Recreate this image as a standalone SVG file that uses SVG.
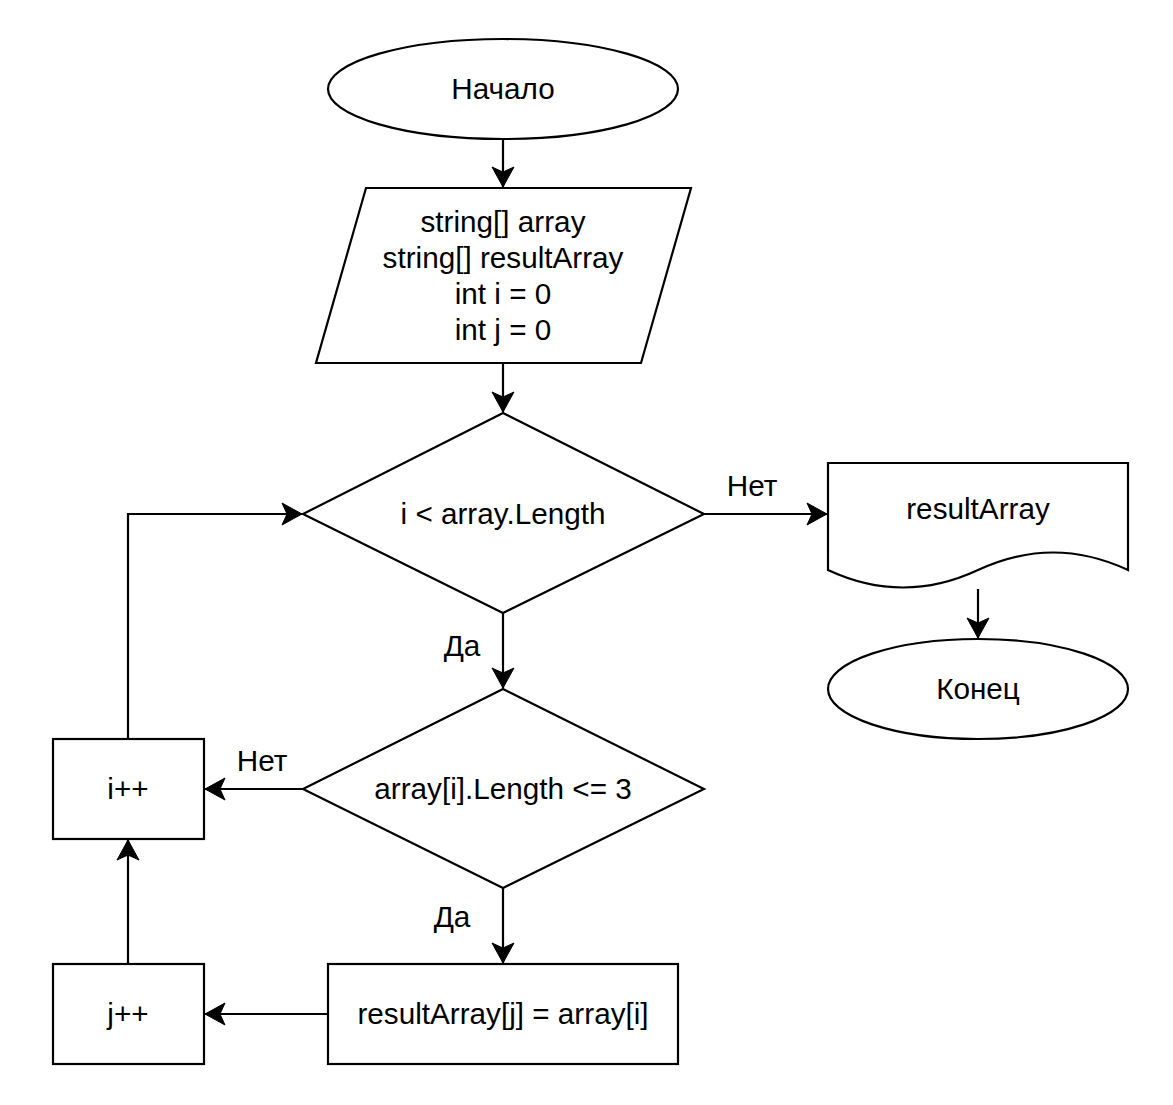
<svg xmlns="http://www.w3.org/2000/svg" width="1173" height="1105" viewBox="0 0 1173 1105">
<style>
.s{fill:#fff;stroke:#000;stroke-width:2.2}
.c{fill:none;stroke:#000;stroke-width:2.2}
text{font-family:"Liberation Sans",Arial,sans-serif;font-size:29.7px;fill:#000;text-anchor:middle}
</style>
<defs>
<marker id="a" markerUnits="userSpaceOnUse" markerWidth="22" markerHeight="24" refX="20" refY="11" orient="auto" overflow="visible">
<path d="M20,11 L0,0 L5,11 L0,22 Z" fill="#000" stroke="#000" stroke-width="1"/>
</marker>
</defs>
<rect width="1173" height="1105" fill="#fff"/>
<g id="connectors">
<path class="c" d="M503,139 V187" marker-end="url(#a)"/>
<path class="c" d="M503,363 V412" marker-end="url(#a)"/>
<path class="c" d="M704,514 H827" marker-end="url(#a)"/>
<path class="c" d="M978,589 V638" marker-end="url(#a)"/>
<path class="c" d="M503,613 V688" marker-end="url(#a)"/>
<path class="c" d="M303,789 H205" marker-end="url(#a)"/>
<path class="c" d="M503,888 V963" marker-end="url(#a)"/>
<path class="c" d="M328,1014 H205" marker-end="url(#a)"/>
<path class="c" d="M128,964 V840" marker-end="url(#a)"/>
<path class="c" d="M128,739 V514 H302" marker-end="url(#a)"/>
<text x="752" y="496">Нет</text>
<text x="462" y="656">Да</text>
<text x="262" y="771">Нет</text>
<text x="452" y="927">Да</text>
</g>
<g id="start">
<ellipse class="s" cx="503" cy="89" rx="175" ry="50"/>
<text x="503" y="98.5">Начало</text>
</g>
<g id="input">
<path class="s" d="M366,188 H691 L641,363 H316 Z"/>
<text x="503" y="232">string[] array</text>
<text x="503" y="268">string[] resultArray</text>
<text x="503" y="304">int i = 0</text>
<text x="503" y="340">int j = 0</text>
</g>
<g id="cond1">
<path class="s" d="M503,413 L704,514 L503,613 L303,514 Z"/>
<text x="503" y="523.5">i &lt; array.Length</text>
</g>
<g id="output">
<path class="s" d="M828,463 H1128 V570 Q1053,535 978,570 Q903,605 828,570 Z"/>
<text x="978" y="518.5">resultArray</text>
</g>
<g id="end">
<ellipse class="s" cx="978" cy="689" rx="150" ry="50"/>
<text x="978" y="698.5">Конец</text>
</g>
<g id="cond2">
<path class="s" d="M503,689 L704,789 L503,888 L303,789 Z"/>
<text x="503" y="798.5">array[i].Length &lt;= 3</text>
</g>
<g id="inc-i">
<rect class="s" x="53" y="739" width="151" height="100"/>
<text x="128" y="798.5">i++</text>
</g>
<g id="assign">
<rect class="s" x="328" y="964" width="350" height="100"/>
<text x="503" y="1023.5">resultArray[j] = array[i]</text>
</g>
<g id="inc-j">
<rect class="s" x="53" y="964" width="151" height="100"/>
<text x="128" y="1023.5">j++</text>
</g>
</svg>
